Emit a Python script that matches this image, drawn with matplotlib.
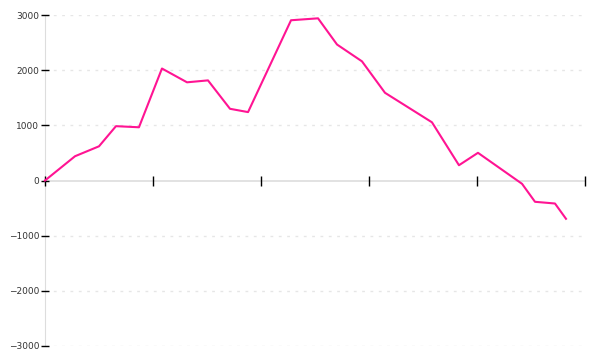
import numpy as np
import matplotlib.pyplot as plt

# x position of each point (tick units), y value of each point
days = [0, 0.278, 0.5, 0.657, 0.87, 1.083, 1.315, 1.509, 1.713, 1.88, 2.278,
        2.528, 2.704, 2.935, 3.148, 3.583, 3.833, 4.009, 4.417, 4.537, 4.722, 4.824]
values = [0, 440, 620, 985, 965, 2030, 1780, 1815, 1300, 1240, 2905,
          2940, 2465, 2160, 1590, 1055, 277, 502, -60, -386, -417, -694]

y_ticks = [-3000, -2000, -1000, 0, 1000, 2000, 3000]
x_ticks = [0, 1, 2, 3, 4, 5]

fig = plt.figure(figsize=(6, 3.6), dpi=100)
ax = fig.add_axes([0.075, 0.0389, 0.9, 0.9194])

ax.plot(days, values, color="#ff1493", linewidth=1.5, zorder=3, clip_on=False)

ax.set_xlim(0, 5)
ax.set_ylim(-3000, 3000)

# dotted grid, but not at zero
for v in y_ticks:
    if v != 0:
        ax.plot([0, 4.97], [v, v], color="#e6e6e6", linewidth=1,
                linestyle=(0, (2, 4)), zorder=0)

ax.spines["top"].set_visible(False)
ax.spines["right"].set_visible(False)
ax.spines["left"].set_color("#dddddd")
ax.spines["bottom"].set_position(("data", 0))
ax.spines["bottom"].set_color("#dddddd")
ax.spines["bottom"].set_linewidth(1.2)
for s in ax.spines.values():
    s.set_zorder(1)

ax.set_yticks(y_ticks)
ax.set_yticklabels([str(v).replace("-", "\u2212") for v in y_ticks])
ax.set_xticks(x_ticks)
ax.set_xticklabels([])

ax.tick_params(axis="y", direction="inout", length=6, width=1, color="black",
               labelsize=6.5, labelcolor="#333333", pad=1)
ax.tick_params(axis="x", direction="inout", length=7.5, width=1, color="black")

fig.savefig("out.png", dpi=100)
